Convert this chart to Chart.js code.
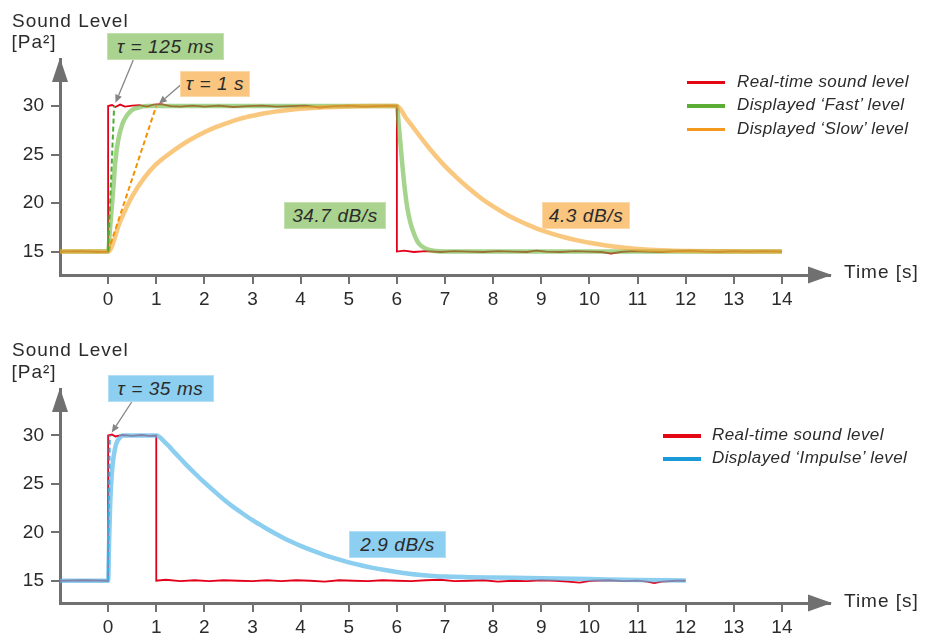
<!DOCTYPE html>
<html><head><meta charset="utf-8">
<script src="https://cdn.jsdelivr.net/npm/chart.js@4"></script>
<style>
body{margin:0;background:#fff;}
#wrap{position:relative;width:926px;height:643px;overflow:hidden;font-family:"Liberation Sans",Arial,sans-serif;color:#2b2b2b;background:#fff;}
canvas{position:absolute;left:0;}
.t{position:absolute;white-space:nowrap;line-height:1;}
.axt{font-size:19px;letter-spacing:1px;}
.leg{font-size:17px;font-style:italic;letter-spacing:0.4px;}
.sw{position:absolute;height:3.5px;}
.box{position:absolute;display:flex;align-items:center;justify-content:center;font-size:19px;font-style:italic;letter-spacing:0.6px;box-sizing:border-box;line-height:1;}
</style></head>
<body>
<div id="wrap">
<canvas id="c1" width="926" height="330" style="top:0"></canvas>
<canvas id="c2" width="926" height="313" style="top:330px"></canvas>

<div class="t axt" style="left:12px;top:10.6px">Sound Level</div>
<div class="t axt" style="left:11.5px;top:32.2px">[Pa²]</div>
<div class="t axt" style="left:844px;top:262.3px">Time [s]</div>
<div class="t axt" style="left:12px;top:340px">Sound Level</div>
<div class="t axt" style="left:11.5px;top:362.2px">[Pa²]</div>
<div class="t axt" style="left:844px;top:590.6px">Time [s]</div>

<div class="sw" style="left:687px;top:80.8px;width:38px;background:#e30613"></div>
<div class="t leg" style="left:737px;top:72.7px">Real-time sound level</div>
<div class="sw" style="left:687px;top:104.3px;width:38px;background:#5aae35"></div>
<div class="t leg" style="left:737px;top:96.2px">Displayed ‘Fast’ level</div>
<div class="sw" style="left:687px;top:127.8px;width:38px;background:#f39a1e"></div>
<div class="t leg" style="left:737px;top:119.7px">Displayed ‘Slow’ level</div>

<div class="sw" style="left:663px;top:434.3px;width:38px;background:#e30613"></div>
<div class="t leg" style="left:712px;top:426.2px">Real-time sound level</div>
<div class="sw" style="left:663px;top:457.3px;width:38px;background:#1a9ad9"></div>
<div class="t leg" style="left:712px;top:449.2px">Displayed ‘Impulse’ level</div>

<div class="box" style="left:107px;top:33px;width:117px;height:27px;background:#a9d38f;border:1px solid #c3e1b0">τ = 125 ms</div>
<div class="box" style="left:180px;top:70.5px;width:70px;height:26.5px;background:#f9c57f;border:1px solid #fbd9a8">τ = 1 s</div>
<div class="box" style="left:284px;top:202px;width:102px;height:27px;background:#a9d38f;border:1px solid #c3e1b0">34.7 dB/s</div>
<div class="box" style="left:542px;top:202px;width:88px;height:27px;background:#f9c57f;border:1px solid #fbd9a8">4.3 dB/s</div>
<div class="box" style="left:107.5px;top:375px;width:106px;height:27px;background:#8dcff0;border:1px solid #b3def5">τ = 35 ms</div>
<div class="box" style="left:349px;top:531px;width:97px;height:27px;background:#8dcff0;border:1px solid #b3def5">2.9 dB/s</div>
</div>

<script>
// ---------- data (time [s], level [Pa²]) ----------
const xTickValues = [0,1,2,3,4,5,6,7,8,9,10,11,12,13,14];
const yTickValues = [15,20,25,30];

const realTimeTop = [[-1,15],[-0.6,15.05],[-0.2,14.95],[0,15],[0,30],[0.08,30.1],[0.15,29.9],[0.25,30.15],[0.35,29.95],[0.5,30.05],[0.65,30.1],[0.8,29.95],[0.95,30.15],[1.1,30.2],[1.3,30],[1.5,29.95],[1.75,30.05],[2.0,29.95],[2.3,30.05],[2.6,29.9],[2.9,30],[3.2,30.05],[3.5,29.95],[3.8,30],[4.1,30.05],[4.4,29.85],[4.7,30],[5.0,30.05],[5.3,29.95],[5.6,30],[5.85,30.05],[6,30],[6,15],[6.15,15.1],[6.35,14.95],[6.6,15.05],[6.9,14.95],[7.2,15.05],[7.5,15],[7.8,14.95],[8.1,15.05],[8.4,15],[8.7,14.95],[8.9,15.1],[9.1,15],[9.4,14.95],[9.7,15.05],[10.0,15],[10.25,14.95],[10.45,14.8],[10.65,14.95],[10.9,15.05],[11.2,15],[11.5,14.95],[11.8,15.05],[12.1,15.1],[12.4,15],[12.7,14.95],[13.0,15.05],[13.3,15],[13.6,15.05],[14,15]];
const fastLevel = [[-1,15],[0,15],[0.04,17.4],[0.1,21],[0.15,24.3],[0.21,26.5],[0.3,28.2],[0.4,29.1],[0.5,29.6],[0.63,29.85],[0.8,30],[6,30],[6.04,28],[6.08,25.8],[6.12,23.6],[6.17,21.2],[6.22,19.4],[6.28,18.0],[6.35,16.9],[6.42,16.1],[6.5,15.6],[6.62,15.25],[6.8,15.05],[7,15],[14,15]];
const slowLevel = [[-1,15],[0,15],[0.25,18.1],[0.5,20.7],[0.75,22.6],[1,24],[1.25,25.0],[1.5,25.9],[1.75,26.65],[2,27.3],[2.25,27.85],[2.5,28.3],[2.75,28.7],[3,29.0],[3.25,29.25],[3.5,29.45],[3.75,29.6],[4,29.72],[4.5,29.88],[5,29.96],[5.5,30],[6,30],[6.2,28.7],[6.4,27.4],[6.6,26.1],[6.8,24.9],[7,23.8],[7.25,22.6],[7.5,21.5],[7.75,20.5],[8,19.65],[8.25,18.9],[8.5,18.25],[8.75,17.7],[9,17.2],[9.25,16.8],[9.5,16.45],[9.75,16.15],[10,15.9],[10.5,15.52],[11,15.27],[11.5,15.12],[12,15.05],[14,15]];
const fastTangent = [[0,15],[0.125,30]];
const slowTangent = [[0,15],[1,30]];

const realTimeBottom = [[-1,15],[-0.5,15.05],[0,15],[0,30],[0.08,30.1],[0.15,29.9],[0.3,30.05],[0.5,29.95],[0.7,30.05],[0.85,29.95],[1,30],[1,15],[1.2,15.1],[1.5,14.95],[1.8,15.05],[2.1,14.95],[2.4,15.05],[2.7,15],[3,14.95],[3.3,15.05],[3.6,14.95],[3.9,15.05],[4.2,15],[4.5,14.9],[4.8,15.05],[5.1,15],[5.4,14.95],[5.7,15.05],[6,15],[6.3,14.95],[6.6,15.05],[6.9,15.1],[7.2,14.95],[7.5,15],[7.8,15.05],[8.1,14.9],[8.4,15],[8.7,14.95],[9,15.05],[9.3,15],[9.55,14.9],[9.8,14.8],[10.05,15],[10.4,15.05],[10.7,14.95],[11,15],[11.2,14.9],[11.35,14.75],[11.5,14.9],[11.8,15],[12,15]];
const impulseLevel = [[-1,15],[0,15],[0.02,19],[0.04,22.5],[0.06,24.8],[0.09,26.8],[0.12,28],[0.16,29],[0.2,29.5],[0.25,29.8],[0.3,30],[1.0,30],[1.2,29.2],[1.4,28.15],[1.6,27.1],[1.8,26.1],[2.0,25.15],[2.25,24.05],[2.5,23.0],[2.75,22.1],[3.0,21.25],[3.25,20.5],[3.5,19.8],[3.75,19.15],[4.0,18.6],[4.25,18.1],[4.5,17.65],[4.75,17.25],[5.0,16.9],[5.25,16.6],[5.5,16.33],[5.75,16.1],[6.0,15.9],[6.25,15.73],[6.5,15.6],[6.75,15.5],[7.0,15.43],[7.5,15.37],[8,15.33],[9,15.26],[10,15.17],[11,15.08],[12,15.02]];
const impulseTangent = [[0,15],[0.035,30]];

// ---------- rendering ----------
Chart.defaults.font.family = '"Liberation Sans", Arial, sans-serif';
const AX = '#707070';
const toXY = a => a.map(([x, y]) => ({x, y}));

function scales(yMin, yMax, axisBottom, canvasH) {
  return {
    x: {
      type: 'linear', min: -1, max: 15,
      afterBuildTicks: s => { s.ticks = xTickValues.map(v => ({value: v})); },
      afterFit: s => { s.height = canvasH - axisBottom; },
      ticks: { autoSkip: false, maxRotation: 0, padding: 4, color: '#2b2b2b', font: {size: 19} },
      grid: { drawOnChartArea: false, drawTicks: true, tickLength: 9, color: AX, lineWidth: 2 },
      border: { display: true, color: AX, width: 3 }
    },
    y: {
      type: 'linear', min: yMin, max: yMax,
      afterBuildTicks: s => { s.ticks = yTickValues.map(v => ({value: v})); },
      afterFit: s => { s.width = 60; },
      ticks: { autoSkip: false, padding: 7, color: '#2b2b2b', font: {size: 19} },
      grid: { drawOnChartArea: false, drawTicks: true, tickLength: 9, color: AX, lineWidth: 2 },
      border: { display: true, color: AX, width: 3 }
    }
  };
}

function line(data, color, width, order, opts) {
  return Object.assign({
    data: toXY(data), borderColor: color, borderWidth: width, pointRadius: 0,
    fill: false, order: order, tension: 0
  }, opts || {});
}

const axisArrows = {
  id: 'axisArrows',
  afterDraw(chart) {
    const {ctx, chartArea: a} = chart;
    ctx.save();
    ctx.fillStyle = AX;
    ctx.beginPath();
    ctx.moveTo(a.left, a.top - 1);
    ctx.lineTo(a.left - 8, a.top + 23);
    ctx.lineTo(a.left + 8, a.top + 23);
    ctx.closePath(); ctx.fill();
    ctx.beginPath();
    ctx.moveTo(a.right + 2, a.bottom);
    ctx.lineTo(a.right - 22, a.bottom - 8.5);
    ctx.lineTo(a.right - 22, a.bottom + 8.5);
    ctx.closePath(); ctx.fill();
    ctx.restore();
  }
};

const callouts = {
  id: 'callouts',
  afterDatasetsDraw(chart, args, opts) {
    const {ctx} = chart;
    const xs = chart.scales.x, ys = chart.scales.y;
    ctx.save();
    ctx.strokeStyle = '#858585'; ctx.fillStyle = '#858585'; ctx.lineWidth = 1.3;
    (opts.items || []).forEach(it => {
      const [fx, fy] = it.from;
      let tx = xs.getPixelForValue(it.t), ty = ys.getPixelForValue(it.v);
      let dx = tx - fx, dy = ty - fy; const L = Math.hypot(dx, dy);
      const ux = dx / L, uy = dy / L;
      tx -= ux * 3.5; ty -= uy * 3.5;
      const bx = tx - ux * 8, by = ty - uy * 8;
      ctx.beginPath(); ctx.moveTo(fx, fy); ctx.lineTo(bx, by); ctx.stroke();
      ctx.beginPath(); ctx.moveTo(tx, ty);
      ctx.lineTo(bx - uy * 3.5, by + ux * 3.5);
      ctx.lineTo(bx + uy * 3.5, by - ux * 3.5);
      ctx.closePath(); ctx.fill();
    });
    ctx.restore();
  }
};

const baseOpts = (yMin, yMax, axisBottom, canvasH, items) => ({
  responsive: false, animation: false, devicePixelRatio: 1,
  layout: { padding: { left: 0, top: 59, right: 96, bottom: 0 } },
  scales: scales(yMin, yMax, axisBottom, canvasH),
  plugins: { legend: {display: false}, tooltip: {enabled: false}, callouts: {items} }
});

new Chart(document.getElementById('c1'), {
  type: 'line',
  data: { datasets: [
    line(fastTangent, '#4caf32', 2, 1, {borderDash: [5, 3]}),
    line(slowTangent, '#f39200', 2, 2, {borderDash: [5, 3]}),
    line(slowLevel, 'rgba(245,165,45,0.62)', 4.5, 4, {cubicInterpolationMode: 'monotone'}),
    line(fastLevel, 'rgba(110,185,70,0.62)', 4.5, 5, {cubicInterpolationMode: 'monotone'}),
    line(realTimeTop, '#e2001a', 1.8, 10)
  ]},
  options: baseOpts(12.58, 34.85, 275, 330, [
    {from: [133.3, 60], t: 0.125, v: 30},
    {from: [181.7, 84], t: 1, v: 30}
  ]),
  plugins: [axisArrows, callouts]
});

new Chart(document.getElementById('c2'), {
  type: 'line',
  data: { datasets: [
    line(impulseTangent, '#3fb0e6', 2, 1, {borderDash: [5, 3]}),
    line(impulseLevel, 'rgba(90,185,232,0.7)', 4.5, 4, {cubicInterpolationMode: 'monotone'}),
    line(realTimeBottom, '#e2001a', 1.8, 10)
  ]},
  options: baseOpts(12.70, 34.8, 273, 313, [
    {from: [131.7, 72], t: 0.035, v: 30}
  ]),
  plugins: [axisArrows, callouts]
});
</script>
</body></html>
